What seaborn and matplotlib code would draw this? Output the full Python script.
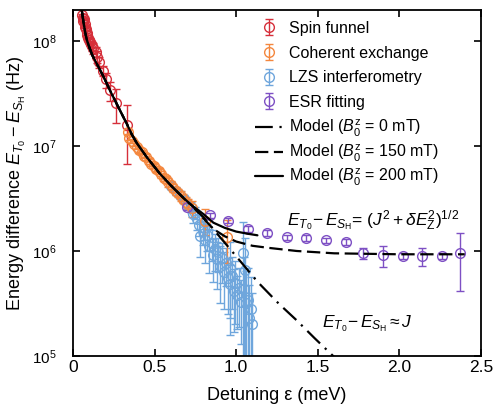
import numpy as np
import pandas as pd
import seaborn as sns
import matplotlib
matplotlib.use('Agg')
import matplotlib.pyplot as plt
from matplotlib.ticker import NullLocator, FixedLocator, FixedFormatter

# Spin funnel (red)
x_sf = [0.055, 0.060, 0.064, 0.068, 0.072, 0.076, 0.080, 0.084, 0.088, 0.092, 0.097, 0.102,
        0.108, 0.115, 0.125, 0.140, 0.150, 0.162, 0.182, 0.205, 0.227, 0.263, 0.329]
y_sf = [1.78e8, 1.66e8, 1.55e8, 1.62e8, 1.45e8, 1.35e8, 1.29e8, 1.20e8, 1.15e8, 1.07e8, 1.02e8, 9.8e7,
        9.3e7, 8.9e7, 8.5e7, 7.9e7, 7.1e7, 6.3e7, 5.2e7, 4.3e7, 3.4e7, 2.55e7, 1.58e7]
e_sf = [4e6, 4e6, 5e6, 4e6, 6e6, 8e6, 6e6, 7e6, 8e6, 7e6, 6e6, 8e6,
        7e6, 8e6, 1e7, 8e6, 9e6, 8e6, 6e6, 7e6, 7e6, 9e6, 9e6]

# Coherent exchange (orange)
x_ce = [0.335, 0.345, 0.360, 0.375, 0.390, 0.405, 0.420, 0.435, 0.450, 0.465, 0.480, 0.495, 0.510,
        0.525, 0.540, 0.555, 0.570, 0.585, 0.600, 0.615, 0.630, 0.645, 0.660, 0.675, 0.690, 0.705,
        0.727, 0.809, 0.946]
y_ce = [1.35e7, 1.20e7, 1.12e7, 1.05e7, 9.8e6, 9.1e6, 8.7e6, 8.1e6, 7.8e6, 7.2e6, 6.8e6, 6.5e6, 6.0e6,
        5.75e6, 5.4e6, 5.0e6, 4.8e6, 4.5e6, 4.25e6, 4.0e6, 3.75e6, 3.55e6, 3.35e6, 3.15e6, 2.95e6, 2.8e6,
        2.55e6, 1.95e6, 1.37e6]
e_ce = [0.6e6, 0.6e6, 0.5e6, 0.6e6, 0.5e6, 0.5e6, 0.4e6, 0.5e6, 0.5e6, 0.4e6, 0.4e6, 0.4e6, 0.4e6,
        0.35e6, 0.4e6, 0.4e6, 0.35e6, 0.4e6, 0.35e6, 0.35e6, 0.35e6, 0.3e6, 0.35e6, 0.3e6, 0.3e6, 0.3e6,
        0.45e6, 0.54e6, 0.6e6]

# LZS interferometry (blue)
x_lzs = [0.600, 0.630, 0.655, 0.680, 0.700, 0.720, 0.735, 0.750, 0.760, 0.775, 0.780, 0.795, 0.800,
         0.810, 0.820, 0.835, 0.850, 0.860, 0.870, 0.885, 0.890, 0.900, 0.915, 0.925, 0.940, 0.950,
         0.960, 0.965, 0.975, 0.985, 0.995, 1.005, 1.020, 1.030, 1.040, 1.045, 1.055, 1.060, 1.070,
         1.080, 1.090, 1.095]
y_lzs = [4.2e6, 3.7e6, 3.4e6, 3.1e6, 2.8e6, 2.6e6, 2.25e6, 2.3e6, 2.0e6, 1.78e6, 1.38e6, 1.55e6, 1.66e6,
         1.26e6, 1.41e6, 1.12e6, 1.2e6, 9.1e5, 1.05e6, 8.3e5, 9.8e5, 7.2e5, 8.5e5, 6.3e5, 7.6e5, 5.5e5,
         6.9e5, 4.8e5, 5.8e5, 4.2e5, 5.0e5, 3.8e5, 4.4e5, 3.3e5, 9.5e5, 4.3e5, 6.6e5, 3.2e5, 3.4e5,
         2.3e5, 2.8e5, 2.0e5]
e_lzs = [0.3e6, 0.3e6, 0.3e6, 0.3e6, 0.3e6, 0.3e6, 0.4e6, 0.3e6, 0.4e6, 0.4e6, 0.5e6, 0.4e6, 0.4e6,
         0.5e6, 0.4e6, 0.5e6, 0.4e6, 0.4e6, 0.4e6, 0.4e6, 0.35e6, 0.4e6, 0.35e6, 0.35e6, 0.3e6, 0.3e6,
         0.53e6, 0.25e6, 0.3e6, 0.25e6, 0.3e6, 0.2e6, 0.25e6, 0.2e6, 9.5e5, 4.5e5, 6.7e5, 3.3e5, 3.5e5,
         2.4e5, 2.9e5, 2.0e5]

# ESR fitting (purple)
x_esr = [0.70, 0.84, 0.95, 1.07, 1.19, 1.31, 1.43, 1.55, 1.67, 1.78, 1.90, 2.02, 2.14, 2.26, 2.37]
y_esr = [2.63e6, 2.19e6, 1.95e6, 1.62e6, 1.48e6, 1.35e6, 1.33e6, 1.26e6, 1.23e6, 9.5e5, 9.1e5, 8.9e5,
         8.9e5, 8.9e5, 9.5e5]
e_esr = [0.15e6, 0.12e6, 0.11e6, 0.1e6, 0.09e6, 0.08e6, 0.08e6, 0.08e6, 0.08e6, 0.11e6, 0.2e6, 0.06e6,
         0.17e6, 0.06e6, 0.53e6]

# Model curves
x_j = [0.053, 0.065, 0.075, 0.085, 0.10, 0.12, 0.15, 0.186, 0.23, 0.278, 0.33, 0.36, 0.39, 0.45,
       0.53, 0.60, 0.68, 0.74, 0.80, 0.88, 1.00, 1.13, 1.26, 1.37, 1.48, 1.60]
y_j = [2.0e8, 1.48e8, 1.2e8, 1.02e8, 8.7e7, 7.2e7, 5.9e7, 4.6e7, 3.3e7, 2.34e7, 1.62e7, 1.29e7,
       1.07e7, 7.9e6, 5.5e6, 4.2e6, 3.16e6, 2.57e6, 2.09e6, 1.48e6, 8.9e5, 5.1e5, 3.16e5, 2.19e5,
       1.48e5, 9.8e4]
x_150 = [0.053, 0.065, 0.075, 0.085, 0.10, 0.12, 0.15, 0.186, 0.23, 0.278, 0.33, 0.36, 0.39, 0.45,
         0.53, 0.60, 0.68, 0.74, 0.80, 0.86, 0.93, 1.00, 1.10, 1.20, 1.37, 1.60, 2.00, 2.40]
y_150 = [2.0e8, 1.48e8, 1.2e8, 1.02e8, 8.7e7, 7.2e7, 5.9e7, 4.6e7, 3.3e7, 2.34e7, 1.62e7, 1.29e7,
         1.07e7, 7.9e6, 5.5e6, 4.2e6, 3.16e6, 2.6e6, 2.04e6, 1.62e6, 1.38e6, 1.23e6, 1.12e6, 1.07e6,
         1.0e6, 9.5e5, 9.3e5, 9.3e5]
x_200 = [0.053, 0.065, 0.075, 0.085, 0.10, 0.12, 0.15, 0.186, 0.23, 0.278, 0.33, 0.36, 0.39, 0.45,
         0.53, 0.60, 0.68, 0.74, 0.80, 0.86, 0.93, 1.00, 1.07, 1.13]
y_200 = [2.0e8, 1.48e8, 1.2e8, 1.02e8, 8.7e7, 7.2e7, 5.9e7, 4.6e7, 3.3e7, 2.34e7, 1.62e7, 1.29e7,
         1.07e7, 7.9e6, 5.5e6, 4.2e6, 3.16e6, 2.63e6, 2.24e6, 1.86e6, 1.66e6, 1.53e6, 1.46e6, 1.41e6]

x_ticks = [0, 0.5, 1.0, 1.5, 2.0, 2.5]
x_ticklabels = ['0', '0.5', '1.0', '1.5', '2.0', '2.5']
y_ticks = [1e5, 1e6, 1e7, 1e8]

c_red = '#d62f3a'
c_orange = '#f4873e'
c_blue = '#6fa6dc'
c_purple = '#7e50c4'

sns.set_theme(style='ticks')
plt.rcParams['font.family'] = ['Liberation Sans', 'DejaVu Sans']
plt.rcParams['mathtext.fontset'] = 'custom'
plt.rcParams['mathtext.rm'] = 'Liberation Sans'
plt.rcParams['mathtext.it'] = 'Liberation Sans:italic'
plt.rcParams['mathtext.bf'] = 'Liberation Sans:bold'
plt.rcParams['mathtext.sf'] = 'Liberation Sans'
plt.rcParams['text.color'] = 'black'
plt.rcParams['axes.labelcolor'] = 'black'
plt.rcParams['xtick.color'] = 'black'
plt.rcParams['ytick.color'] = 'black'

fig = plt.figure(figsize=(4.96, 4.09), dpi=100)
ax = fig.add_axes([73 / 496, 1 - 356 / 409, (481 - 73) / 496, (356 - 10) / 409])

# data with error bars (blue first so orange sits on top)
sets = [
    (x_sf, y_sf, e_sf, c_red, 'Spin funnel'),
    (x_lzs, y_lzs, e_lzs, c_blue, 'LZS interferometry'),
    (x_ce, y_ce, e_ce, c_orange, 'Coherent exchange'),
    (x_esr, y_esr, e_esr, c_purple, 'ESR fitting'),
]
hmap = {}
for xs, ys, es, col, lab in sets:
    h = ax.errorbar(xs, ys, yerr=es, fmt='o', ms=7, mfc='none', mec=col, mew=1.0,
                    ecolor=col, elinewidth=1.0, capsize=3, capthick=1.0, label=lab, zorder=2)
    hmap[lab] = h

# model lines
lab0 = 'Model ($B_0^\\mathrm{z}$ = 0 mT)'
lab150 = 'Model ($B_0^\\mathrm{z}$ = 150 mT)'
lab200 = 'Model ($B_0^\\mathrm{z}$ = 200 mT)'
df_j = pd.DataFrame({'x': x_j, 'y': y_j})
df_150 = pd.DataFrame({'x': x_150, 'y': y_150})
df_200 = pd.DataFrame({'x': x_200, 'y': y_200})
sns.lineplot(data=df_j, x='x', y='y', ax=ax, color='black', lw=1.6,
             linestyle=(0, (8, 3, 1, 3)), label=lab0, zorder=3)
sns.lineplot(data=df_150, x='x', y='y', ax=ax, color='black', lw=1.6,
             linestyle=(0, (6, 2.5)), label=lab150, zorder=3)
sns.lineplot(data=df_200, x='x', y='y', ax=ax, color='black', lw=1.6,
             linestyle='-', label=lab200, zorder=3)

ax.set_yscale('log')
ax.set_xlim(0, 2.5)
ax.set_ylim(1e5, 1.97e8)
ax.xaxis.set_major_locator(FixedLocator(x_ticks))
ax.xaxis.set_major_formatter(FixedFormatter(x_ticklabels))
ax.yaxis.set_major_locator(FixedLocator(y_ticks))
ax.yaxis.set_minor_locator(NullLocator())
ax.xaxis.set_minor_locator(NullLocator())
ax.tick_params(which='major', direction='in', top=True, right=True, length=5, width=1.2)
ax.tick_params(axis='x', labelsize=12.5, pad=3)
ax.tick_params(axis='y', labelsize=11, pad=12)
for s in ax.spines.values():
    s.set_linewidth(1.3)
    s.set_color('black')

ax.set_xlabel('Detuning ε (meV)', fontsize=13)
ax.xaxis.set_label_coords(0.5, -(387 - 356) / 346)
ax.set_ylabel('Energy difference $E_{T_0} - E_{S_\\mathrm{H}}$ (Hz)', fontsize=13)
ax.yaxis.set_label_coords(-(73 - 28) / 408, 0.5)

ax.text(1.31, 1.95e6, '$E_{T_0}\\!-E_{S_\\mathrm{H}}$= $(J^2 + \\delta E_\\mathrm{Z}^2)^{1/2}$',
        fontsize=12.5, va='center', ha='left')
ax.text(1.526, 2.05e5, '$E_{T_0}\\!-E_{S_\\mathrm{H}}\\approx J$', fontsize=12.5, va='center', ha='left')

# legends: data entries and model entries placed separately for even spacing
h_all, l_all = ax.get_legend_handles_labels()
hmap.update(dict(zip(l_all, h_all)))
data_labels = ['Spin funnel', 'Coherent exchange', 'LZS interferometry', 'ESR fitting']
model_labels = [lab0, lab150, lab200]
leg_kw = dict(loc='upper left', bbox_transform=fig.transFigure, frameon=False, fontsize=11.5,
              handlelength=1.75, handletextpad=0.37, borderpad=0, borderaxespad=0)
leg1 = ax.legend([hmap[k] for k in data_labels], data_labels,
                 bbox_to_anchor=(255 / 496, 1 - 21 / 409), labelspacing=0.6, **leg_kw)
ax.add_artist(leg1)
ax.legend([hmap[k] for k in model_labels], model_labels,
          bbox_to_anchor=(255 / 496, 1 - 118 / 409), labelspacing=0.22, **leg_kw)

fig.savefig('out.png', dpi=100)
